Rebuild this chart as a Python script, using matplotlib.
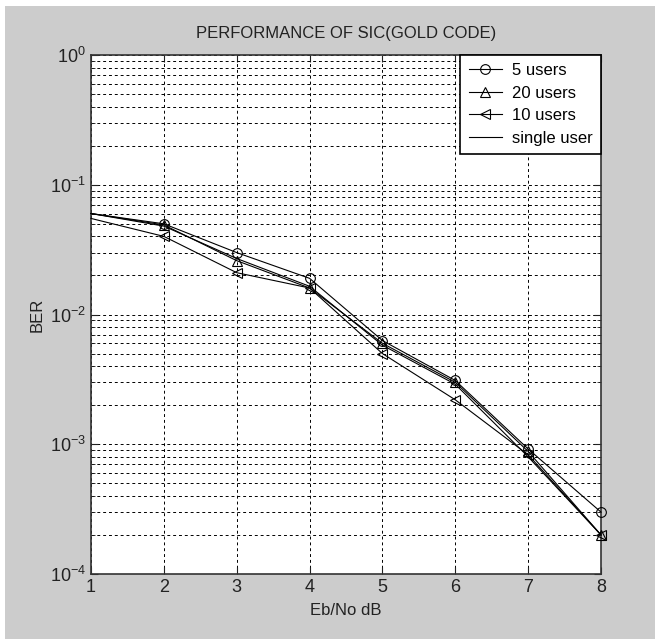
"""SIC performance with Gold codes: BER vs Eb/No for several user counts."""

import matplotlib
matplotlib.use("Agg")
import matplotlib.pyplot as plt
from matplotlib.patches import Rectangle
from matplotlib.ticker import LogLocator, NullFormatter

plt.rcParams["font.family"] = ["Liberation Sans", "DejaVu Sans"]

EBNO = [1, 2, 3, 4, 5, 6, 7, 8]
BER_5_USERS = [0.060, 0.050, 0.030, 0.019, 0.0063, 0.0031, 0.00092, 0.00030]
BER_20_USERS = [0.060, 0.049, 0.026, 0.016, 0.0060, 0.0030, 0.00088, 0.00020]
BER_10_USERS = [0.055, 0.040, 0.021, 0.016, 0.0050, 0.0022, 0.00083, 0.00020]
BER_SINGLE = [0.060, 0.048, 0.027, 0.0165, 0.0058, 0.0029, 0.00080, 0.00020]

SERIES = [
    ("5 users", BER_5_USERS, "o"),
    ("20 users", BER_20_USERS, "^"),
    ("10 users", BER_10_USERS, "<"),
    ("single user", BER_SINGLE, None),
]


def main() -> None:
    fig = plt.figure(figsize=(6.55, 6.39), dpi=100, facecolor="white")
    fig.patches.append(Rectangle((5 / 655, 0), 1, 1 - 6 / 639, transform=fig.transFigure,
                                 facecolor="#cccccc", edgecolor="none", zorder=-10))
    ax = fig.add_axes([91 / 655, 65 / 639, 510 / 655, 519 / 639])

    for label, values, marker in SERIES:
        # first point sits on the left axis edge, no marker drawn there in the original
        ax.semilogy(EBNO, values, color="black", linewidth=0.8, marker=marker,
                    markevery=slice(1, None), markersize=7, markerfacecolor="none",
                    markeredgewidth=0.8, label=label, clip_on=False, zorder=3)

    ax.set_xlim(1, 8)
    ax.set_ylim(1e-4, 1)
    ax.yaxis.set_major_locator(LogLocator(base=10, numticks=10))
    ax.yaxis.set_minor_locator(LogLocator(base=10, subs=range(2, 10), numticks=10))
    ax.yaxis.set_minor_formatter(NullFormatter())

    grid_style = dict(color="black", linestyle=(0, (3, 3)), linewidth=0.7)
    ax.grid(True, which="major", axis="both", **grid_style)
    ax.grid(True, which="minor", axis="y", **grid_style)

    ax.tick_params(which="both", direction="in", top=True, right=True, labelsize=13, colors="#222222")
    ax.tick_params(which="major", length=5)
    ax.tick_params(which="minor", length=3)
    for spine in ax.spines.values():
        spine.set_linewidth(1.2)
        spine.set_color("#333333")

    ax.set_title("PERFORMANCE OF SIC(GOLD CODE)", fontsize=12, pad=12, color="#222222")
    ax.set_xlabel("Eb/No dB", fontsize=12, color="#222222", labelpad=5)
    ax.set_ylabel("BER", fontsize=12, color="#222222", labelpad=4)

    leg = ax.legend(loc="upper right", fontsize=12, frameon=True, fancybox=False,
                    borderaxespad=0.0, handlelength=2.0, handletextpad=0.6,
                    labelspacing=0.45, borderpad=0.5)
    leg.get_frame().set_edgecolor("black")
    leg.get_frame().set_linewidth(1.2)
    leg.get_frame().set_alpha(1.0)
    leg.set_zorder(5)

    fig.savefig("out.png", dpi=100)
    plt.close(fig)


if __name__ == "__main__":
    main()
